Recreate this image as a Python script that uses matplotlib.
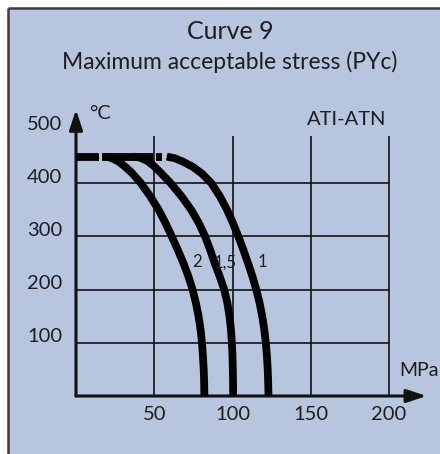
import matplotlib
matplotlib.use("Agg")
import matplotlib.pyplot as plt
from matplotlib.patches import Rectangle, FancyArrowPatch
from matplotlib.lines import Line2D

# ---- chart data -------------------------------------------------------
title = "Curve 9"
subtitle = "Maximum acceptable stress (PYc)"
material = "ATI-ATN"
x_unit = "MPa"
y_unit = "°C"

x_ticks = [50, 100, 150, 200]
y_grid = [100, 200, 300, 400]
y_labels = [100, 200, 300, 400, 500]

# flat top of the curves (°C) and its visible pieces (MPa)
plateau_temp = 450
plateau_start = [0, 16.5, 51]
plateau_end = [15, 49.5, 55]

# descending branches: stress (MPa) vs temperature (°C)
curve_names = ["2", "1,5", "1"]
temp_2 = [450, 447, 441, 432, 420, 400, 375, 350, 325, 300, 275, 250,
          225, 200, 175, 150, 125, 100, 75, 50, 25, 0]
stress_2 = [19, 23, 27, 31, 35.5, 41.5, 47.5, 52.8, 57.2, 61.2, 65, 68.6,
            71.8, 74.5, 76.6, 78.3, 79.6, 80.5, 81.1, 81.6, 81.9, 82]
temp_15 = [450, 448, 442, 433, 420, 400, 375, 350, 325, 300, 275, 250,
           225, 200, 175, 150, 125, 100, 75, 50, 25, 0]
stress_15 = [36, 41, 45.5, 49.5, 54, 60.5, 67.5, 73.6, 78.5, 82.5, 85.7, 88.6,
             91.8, 94.7, 96.7, 98.1, 99, 99.6, 100, 100.2, 100.35, 100.4]
temp_1 = [450, 447, 441, 431, 418, 400, 375, 350, 325, 300, 275, 250,
          225, 200, 175, 150, 125, 100, 75, 50, 25, 0]
stress_1 = [58, 63, 68, 74.5, 80.5, 86.5, 92, 96.5, 100.3, 103.7, 106.9, 109.9,
            112.7, 115.2, 117.3, 119, 120.3, 121.3, 122, 122.5, 122.8, 123]
label_stress = [77, 95.5, 119]
label_temp = [251, 251, 251]

# ---- figure layout ----------------------------------------------------
W, H = 440, 454
DPI = 100
X0_PX, PX_PER_MPA = 76.0, 1.565
Y0_PX, PX_PER_DEG = 396.0, 0.532


def dx(px):
    return (px - X0_PX) / PX_PER_MPA


def dy(py):
    return (Y0_PX - py) / PX_PER_DEG


bg = "#B8C5DE"
ink = "#111111"
txt = "#1e1e1e"
plt.rcParams["font.family"] = ["Lato", "DejaVu Sans"]

fig = plt.figure(figsize=(W / DPI, H / DPI), dpi=DPI, facecolor="white")

ax = fig.add_axes([0, 0, 1, 1])
ax.set_xlim(dx(0), dx(W))
ax.set_ylim(dy(H), dy(0))
ax.axis("off")

# panel background with dark top/left border
ax.add_patch(Rectangle((8 / W, 0), 1, 1 - 8 / H, transform=ax.transAxes,
                       facecolor=bg, edgecolor="none", zorder=0))
ax.add_line(Line2D([7.5 / W, 7.5 / W], [0, 1 - 7.5 / H], transform=ax.transAxes,
                   color="#3c3c3c", lw=1.8, solid_capstyle="butt", zorder=1))
ax.add_line(Line2D([7.5 / W, 1], [1 - 7.5 / H, 1 - 7.5 / H], transform=ax.transAxes,
                   color="#3c3c3c", lw=1.8, solid_capstyle="butt", zorder=1))

# grid
grid_top = 488
ax.hlines(y_grid, 0, x_ticks[-1], color=ink, lw=1.2, zorder=2)
ax.vlines(x_ticks, 0, grid_top, color=ink, lw=1.2, zorder=2)
ax.plot([0, 3.5], [500, 500], color=ink, lw=1.2, zorder=2)

# axes with arrow heads
for start, end in [((0, 0), (224, 0)), ((0, 0), (0, 538))]:
    arr = FancyArrowPatch(start, end, arrowstyle="-|>,head_length=12,head_width=4",
                          mutation_scale=1, color=ink, lw=2.2, shrinkA=0, shrinkB=0,
                          zorder=3)
    ax.add_patch(arr)

# curves
lw_curve = 5.6
for s, e in zip(plateau_start, plateau_end):
    ax.plot([s, e], [plateau_temp, plateau_temp], color="black", lw=lw_curve,
            solid_capstyle="butt", zorder=4)
for xs, ys in [(stress_2, temp_2), (stress_15, temp_15), (stress_1, temp_1)]:
    ax.plot(xs, ys, color="black", lw=lw_curve, solid_capstyle="butt",
            solid_joinstyle="round", zorder=4)

for name, xs, ys in zip(curve_names, label_stress, label_temp):
    ax.text(xs, ys, name, fontsize=12, color=txt, ha="center", va="center", zorder=5)

# tick labels
label_lift = 6 / PX_PER_DEG
for v in y_labels:
    ax.text(dx(62), v + label_lift, str(v), fontsize=14.5, color=txt,
            ha="right", va="center")
for v in x_ticks:
    ax.text(v, dy(414), str(v), fontsize=14.5, color=txt, ha="center", va="center")

ax.text(dx(399), dy(370), x_unit, fontsize=14, color=txt, ha="left", va="center")
ax.text(dx(89), dy(113), y_unit, fontsize=14.5, color=txt, ha="left", va="center")
ax.text(dx(347), dy(119), material, fontsize=14.5, color=txt, ha="center", va="center")

ax.text(dx(230), dy(31), title, fontsize=18, color=txt, ha="center", va="center")
ax.text(dx(230), dy(62), subtitle, fontsize=16.5, color=txt, ha="center", va="center")

fig.savefig("out.png", dpi=DPI, facecolor="white")
